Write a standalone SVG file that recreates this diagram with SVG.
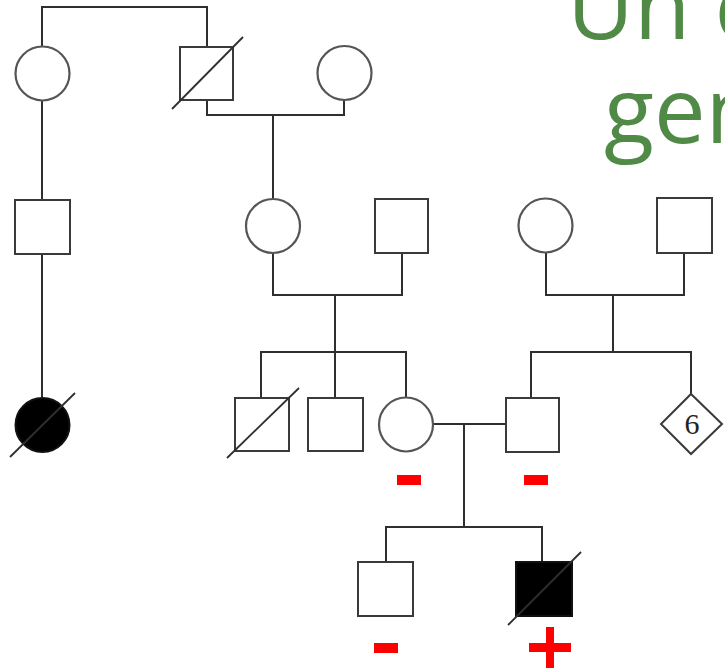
<svg xmlns="http://www.w3.org/2000/svg" width="725" height="670" viewBox="0 0 725 670">
  <style>
    .ln { fill: none; stroke: #2f2f2f; stroke-width: 2; }
    .nd { fill: #ffffff; stroke: #3a3a3a; stroke-width: 2; }
    .ci { fill: #ffffff; stroke: #555555; stroke-width: 2.2; }
    .af { fill: #000000; stroke: #111111; stroke-width: 2; }
    .sl { stroke: #2f2f2f; stroke-width: 1.8; }
    .mk { fill: #ff0000; }
    .title { font-family: "Open Sans", "Liberation Sans", sans-serif; font-size: 92px; fill: #518a46; }
    .num { font-family: "Liberation Serif", serif; font-size: 30px; fill: #222222; text-anchor: middle; }
  </style>

  <rect x="0" y="0" width="725" height="670" fill="#ffffff"/>

  <!-- heading, running off the right edge -->
  <g id="heading">
    <text class="title" x="567" y="39">Un c</text>
    <text class="title" x="604" y="143">gen</text>
  </g>

  <!-- lines of descent and marriage -->
  <g id="connectors">
    <!-- generation I -->
    <polyline class="ln" points="42,46 42,7 207,7 207,47"/>
    <polyline class="ln" points="207,100 207,115 344,115 344,100"/>
    <line class="ln" x1="273" y1="115" x2="273" y2="199"/>
    <line class="ln" x1="42" y1="100" x2="42" y2="200"/>
    <line class="ln" x1="42" y1="254" x2="42" y2="397"/>
    <!-- generation II, left couple -->
    <polyline class="ln" points="273,253 273,295 402,295 402,253"/>
    <line class="ln" x1="335" y1="295" x2="335" y2="352"/>
    <polyline class="ln" points="261,398 261,352 406,352 406,397"/>
    <line class="ln" x1="335" y1="352" x2="335" y2="398"/>
    <!-- generation II, right couple -->
    <polyline class="ln" points="546,253 546,295 684,295 684,253"/>
    <line class="ln" x1="613" y1="295" x2="613" y2="352"/>
    <polyline class="ln" points="531,398 531,352 691,352 691,394"/>
    <!-- generation III couple -->
    <line class="ln" x1="433" y1="424" x2="506" y2="424"/>
    <line class="ln" x1="464" y1="424" x2="464" y2="527"/>
    <polyline class="ln" points="386,562 386,527 542,527 542,562"/>
  </g>

  <!-- generation I -->
  <g id="I-1"><circle class="ci" cx="42.5" cy="73.5" r="27"/></g>
  <g id="I-2">
    <rect class="nd" x="180" y="47" width="53" height="53"/>
    <line class="sl" x1="172" y1="109" x2="243" y2="37"/>
  </g>
  <g id="I-3"><circle class="ci" cx="344.5" cy="73" r="27"/></g>

  <!-- generation II -->
  <g id="II-1"><rect class="nd" x="15" y="200" width="55" height="54"/></g>
  <g id="II-2"><circle class="ci" cx="273" cy="226" r="27"/></g>
  <g id="II-3"><rect class="nd" x="375" y="199" width="53" height="54"/></g>
  <g id="II-4"><circle class="ci" cx="545.5" cy="225.5" r="27"/></g>
  <g id="II-5"><rect class="nd" x="657" y="198" width="55" height="55"/></g>

  <!-- generation III -->
  <g id="III-1">
    <circle class="af" cx="42.5" cy="425" r="27"/>
    <line class="sl" x1="10" y1="457" x2="75" y2="393"/>
  </g>
  <g id="III-2">
    <rect class="nd" x="235" y="398" width="54" height="53"/>
    <line class="sl" x1="227" y1="458" x2="299" y2="388"/>
  </g>
  <g id="III-3"><rect class="nd" x="308" y="398" width="55" height="53"/></g>
  <g id="III-4">
    <circle class="ci" cx="406" cy="424.5" r="27"/>
    <rect class="mk" x="397" y="475" width="24" height="10"/>
  </g>
  <g id="III-5">
    <rect class="nd" x="506" y="398" width="53" height="54"/>
    <rect class="mk" x="524" y="475" width="24" height="10"/>
  </g>
  <g id="III-6">
    <polygon class="nd" points="691,394 722,424 691,454 661,424"/>
    <text class="num" x="692" y="434">6</text>
  </g>

  <!-- generation IV -->
  <g id="IV-1">
    <rect class="nd" x="358" y="562" width="55" height="54"/>
    <rect class="mk" x="374" y="643" width="24" height="10"/>
  </g>
  <g id="IV-2">
    <rect class="af" x="516" y="562" width="56" height="54"/>
    <line class="sl" x1="508" y1="625" x2="581" y2="552"/>
    <rect class="mk" x="529" y="643" width="42" height="9"/>
    <rect class="mk" x="546" y="627" width="8" height="41"/>
  </g>
</svg>
